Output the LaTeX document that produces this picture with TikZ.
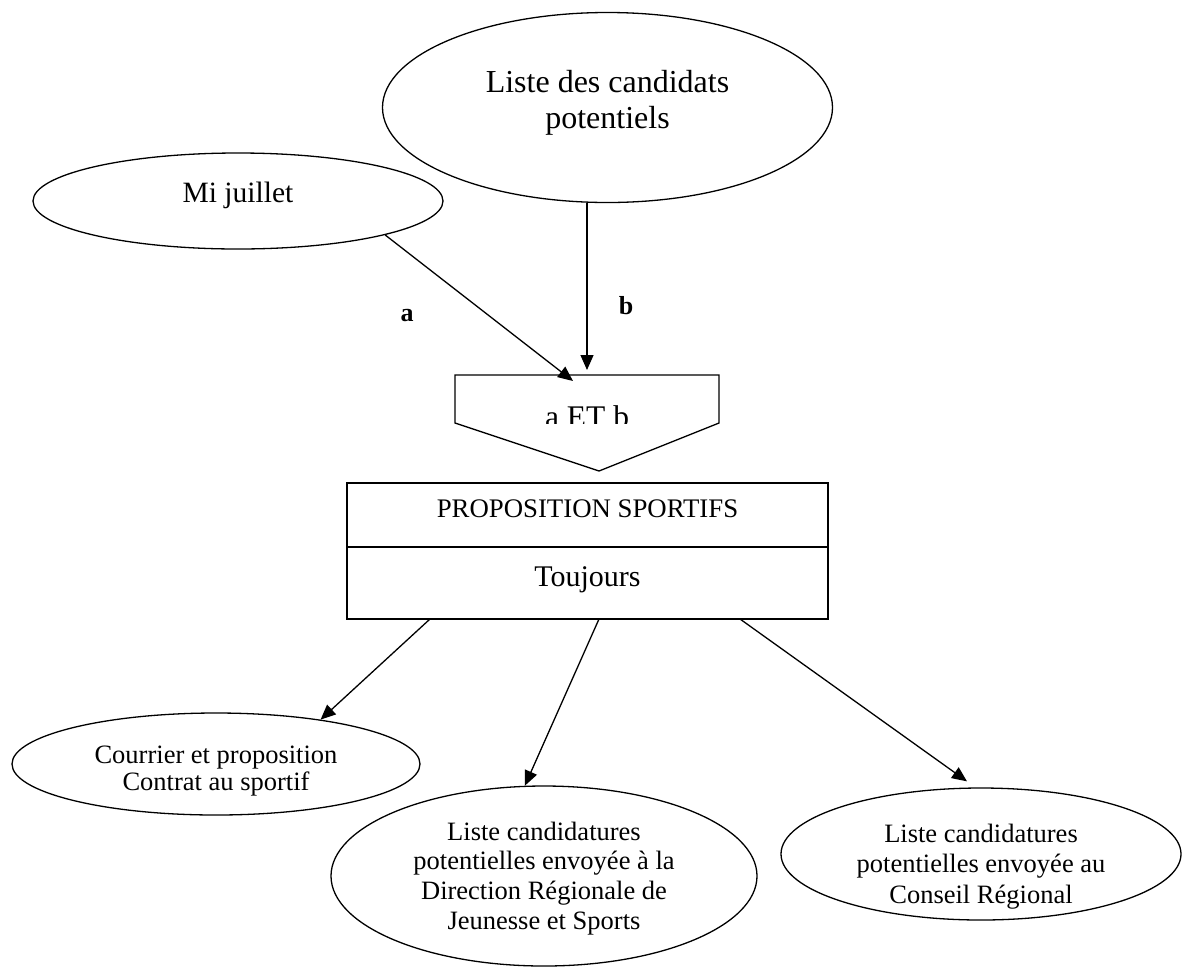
\documentclass[tikz,border=0pt]{standalone}
\usepackage{fontspec}
\setmainfont{Liberation Serif}
\usetikzlibrary{shapes.geometric,arrows.meta,positioning}

% hauteur / profondeur invisibles pour placer le texte dans les ovales
\newcommand{\haut}[1]{\vrule width 0pt height #1 depth 0pt}
\newcommand{\bas}[1]{\vrule width 0pt height 0pt depth #1}

\tikzset{
  oval/.style={ellipse,draw,line width=1.3pt,inner sep=0pt,align=center},
  boite/.style={rectangle,draw,line width=1.3pt,inner sep=0pt,outer sep=0pt,minimum width=481pt},
  fleche/.style={line width=1.3pt,-{Triangle[length=15pt,width=13pt]}},
  lettre/.style={inner sep=0pt,font=\fontsize{26}{30}\selectfont\bfseries}
}

\begin{document}
\begin{tikzpicture}[x=1pt,y=-1pt]
  \useasboundingbox (0,0) rectangle (1182,967);
  % entrees
  \node[oval,minimum width=450pt,minimum height=190pt,font=\fontsize{32}{36}\selectfont] (cand) at (607.5,107.5) {Liste des candidats\\potentiels\bas{17pt}};
  \node[oval,minimum width=410pt,minimum height=96pt,font=\fontsize{29.5}{34}\selectfont,text height=20pt,text depth=18pt] (mi) at (238,201) {Mi juillet};

  % condition a ET b
  \coordinate (etbtop) at (587,375);
  \draw[line width=1.3pt] (etbtop) ++(-132,0) -- ++(264,0) -- ++(0,48) -- ++(-120,48) -- ++(-144,-48) -- cycle;
  \begin{scope}
    \clip (455,375) rectangle (719,423);
    \node[anchor=base,inner sep=0pt,font=\fontsize{31.5}{36}\selectfont] (etb) at (587,427) {a ET b};
  \end{scope}

  \draw[fleche] (mi.-13.2) -- ([xshift=-14pt,yshift=-6pt]etbtop);
  \draw[fleche] (cand.south -| etbtop) -- ([yshift=5pt]etbtop);
  \node[lettre] (la) at (407,316) {a};
  \node[lettre] (lb) at (626,306) {b};

  % tache
  \node[boite,minimum height=64pt,font=\fontsize{26.8}{30}\selectfont,text height=17pt,text depth=13pt] (prop) at (587.5,515) {PROPOSITION SPORTIFS};
  \node[boite,minimum height=72pt,below=0pt of prop,font=\fontsize{30}{34}\selectfont,text height=19pt,text depth=13pt] (tjr) {Toujours};

  % sorties
  \node[oval,minimum width=408pt,minimum height=102pt,font=\fontsize{26.5}{27}\selectfont] (cour) at (216,764) {\haut{31pt}Courrier et proposition\\Contrat au sportif};
  \node[oval,minimum width=426pt,minimum height=180pt,font=\fontsize{26.5}{29.7}\selectfont] (dir) at (544,876) {\haut{23pt}Liste candidatures\\potentielles envoyée à la\\Direction Régionale de\\Jeunesse et Sports};
  \node[oval,minimum width=400pt,minimum height=132pt,inner ysep=-25pt,font=\fontsize{26.5}{30.5}\selectfont] (cons) at (981,854) {\haut{43pt}Liste candidatures\\potentielles envoyée au\\Conseil Régional};

  \draw[fleche] ([xshift=-157.5pt]tjr.south) -- (cour.23.5);
  \draw[fleche] ([xshift=11.5pt]tjr.south) -- (dir.102);
  \draw[fleche] ([xshift=152.5pt]tjr.south) -- ([xshift=-14pt,yshift=6pt]cons.north);
\end{tikzpicture}
\end{document}
